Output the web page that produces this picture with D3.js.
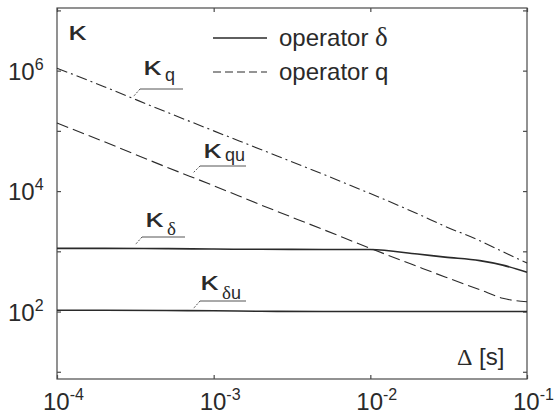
<!DOCTYPE html>
<html>
<head>
<meta charset="utf-8">
<script src="https://cdn.jsdelivr.net/npm/d3@7"></script>
<style>
  html, body { margin: 0; padding: 0; background: #fff; }
  svg { display: block; }
  text { font-family: "Liberation Sans", Arial, sans-serif; fill: #2a2a2a; }
</style>
</head>
<body>
<svg id="chart" width="555" height="416"></svg>
<script>
// Sampling interval Δ [s]
const deltaValues = [1e-4, 2e-4, 5e-4, 1e-3, 2e-3, 5e-3, 1e-2, 2e-2, 3e-2, 5e-2, 7e-2, 1e-1];

// Condition numbers, shift operator q
const kappaQ  = [1.1e6, 5.4e5, 2.05e5, 1.0e5, 4.9e4, 1.9e4, 9.1e3, 4.2e3, 2.6e3, 1.5e3, 985, 640];
const kappaQU = [1.35e5, 6.6e4, 2.5e4, 1.23e4, 5.9e3, 2.3e3, 1.12e3, 560, 375, 230, 166, 145];

// Condition numbers, delta operator
const kappaD  = [1120, 1120, 1110, 1090, 1080, 1075, 1070, 900, 800, 700, 590, 450];
const kappaDU = [105, 105, 104, 103, 101, 100, 100, 100, 100, 100, 100, 100];

// Axis ticks
const xTicks = [1e-4, 1e-3, 1e-2, 1e-1];
const xTickExp = ["-4", "-3", "-2", "-1"];
const yMinorTicks = [1e1, 1e2, 1e3, 1e4, 1e5, 1e6, 1e7];
const yTicks = [1e2, 1e4, 1e6];
const yTickExp = ["2", "4", "6"];

const svg = d3.select("#chart");
const plotLeft = 57, plotRight = 527, plotTop = 8, plotBottom = 379;

const x = d3.scaleLog().domain([1e-4, 1e-1]).range([plotLeft, plotRight]);
const y = d3.scaleLog().domain([Math.pow(10, 0.88), Math.pow(10, 7.04)]).range([plotBottom, plotTop]);

const axisColor = "#4a4a4a";
const inkColor = "#2a2a2a";

// Frame
svg.append("rect")
  .attr("x", plotLeft).attr("y", plotTop)
  .attr("width", plotRight - plotLeft).attr("height", plotBottom - plotTop)
  .attr("fill", "none").attr("stroke", axisColor).attr("stroke-width", 1.2);

// Inward ticks on all four sides
function styleAxis(g) {
  g.select(".domain").remove();
  g.selectAll(".tick line").attr("stroke", axisColor).attr("stroke-width", 1.2);
  g.selectAll(".tick text").remove();
}
const yTickVals = yMinorTicks.filter(v => y(v) < plotBottom && y(v) > plotTop);
svg.append("g").attr("transform", `translate(0,${plotBottom})`)
  .call(d3.axisBottom(x).tickValues(xTicks).tickSize(-4)).call(styleAxis);
svg.append("g").attr("transform", `translate(0,${plotTop})`)
  .call(d3.axisTop(x).tickValues(xTicks).tickSize(-4)).call(styleAxis);
svg.append("g").attr("transform", `translate(${plotLeft},0)`)
  .call(d3.axisLeft(y).tickValues(yTickVals).tickSize(-4)).call(styleAxis);
svg.append("g").attr("transform", `translate(${plotRight},0)`)
  .call(d3.axisRight(y).tickValues(yTickVals).tickSize(-4)).call(styleAxis);

// Tick labels as powers of ten
xTicks.forEach((v, i) => {
  const t = svg.append("text")
    .attr("x", x(v) - 14).attr("y", 410)
    .attr("font-size", 24);
  t.append("tspan").text("10");
  t.append("tspan").attr("font-size", 16).attr("dy", -10).text(xTickExp[i]);
});
yTicks.forEach((v, i) => {
  const t = svg.append("text")
    .attr("x", 8).attr("y", y(v) + 9)
    .attr("font-size", 24);
  t.append("tspan").text("10");
  t.append("tspan").attr("font-size", 16).attr("dy", -10).text(yTickExp[i]);
});

// Curves
const line = d3.line()
  .x((d, i) => x(deltaValues[i]))
  .y(d => y(d))
  .curve(d3.curveMonotoneX);

const curves = [
  { values: kappaQ,  dash: "11,4,2,4", width: 1.1 },
  { values: kappaQU, dash: "12,5",     width: 1.1 },
  { values: kappaD,  dash: null,       width: 1.6 },
  { values: kappaDU, dash: null,       width: 1.6 }
];
curves.forEach(c => {
  svg.append("path")
    .datum(c.values)
    .attr("d", line)
    .attr("fill", "none")
    .attr("stroke", inkColor)
    .attr("stroke-width", c.width)
    .attr("stroke-dasharray", c.dash);
});

// Wide kappa glyph
function kappa(px, py, size) {
  svg.append("text")
    .attr("transform", `translate(${px},${py}) scale(1.4,1)`)
    .attr("font-size", size)
    .text("κ");
}

// Curve labels with underline and leader
const curveLabels = [
  { sub: "q",  lx: 143, ly: 75,  sx: 165, sy: 81,  ux0: 140, ux1: 183, uy: 89,  tx: 133, ty: 97 },
  { sub: "qu", lx: 203, ly: 158, sx: 225, sy: 161, ux0: 200, ux1: 246, uy: 166, tx: 193, ty: 173 },
  { sub: "δ",  lx: 145, ly: 227, sx: 167, sy: 235, ux0: 142, ux1: 185, uy: 237, tx: 135, ty: 245 },
  { sub: "δu", lx: 200, ly: 290, sx: 222, sy: 299, ux0: 200, ux1: 246, uy: 301, tx: 193, ty: 309 }
];
curveLabels.forEach(l => {
  kappa(l.lx, l.ly, 26);
  const s = svg.append("text").attr("x", l.sx).attr("y", l.sy).attr("font-size", 18);
  l.sub.split("").forEach(ch => {
    const ts = s.append("tspan").text(ch);
    if (ch === "δ") ts.attr("font-family", "Liberation Serif, serif").attr("font-size", 19);
  });
  svg.append("line")
    .attr("x1", l.ux0).attr("x2", l.ux1).attr("y1", l.uy).attr("y2", l.uy)
    .attr("stroke", "#555").attr("stroke-width", 1);
  svg.append("line")
    .attr("x1", l.ux0).attr("y1", l.uy).attr("x2", l.tx).attr("y2", l.ty)
    .attr("stroke", "#555").attr("stroke-width", 1).attr("stroke-dasharray", "2,1.5");
});

// Axis titles
kappa(68, 40, 26);
const xt = svg.append("text").attr("x", 457).attr("y", 365).attr("font-size", 24);
xt.append("tspan").attr("font-family", "Liberation Serif, serif").text("Δ");
xt.append("tspan").text(" [s]");

// Legend
const legend = [
  { label: "operator ", sym: "δ", dash: null, ly: 38 },
  { label: "operator q", sym: "", dash: "8,4", ly: 72 }
];
legend.forEach(l => {
  svg.append("line")
    .attr("x1", 213).attr("x2", 267).attr("y1", l.ly).attr("y2", l.ly)
    .attr("stroke", inkColor).attr("stroke-width", l.dash ? 1.1 : 1.6)
    .attr("stroke-dasharray", l.dash);
  const t = svg.append("text").attr("x", 279).attr("y", l.ly + 8).attr("font-size", 24);
  t.append("tspan").text(l.label);
  if (l.sym) t.append("tspan").attr("font-family", "Liberation Serif, serif").attr("font-size", 27).text(l.sym);
});
</script>
</body>
</html>
